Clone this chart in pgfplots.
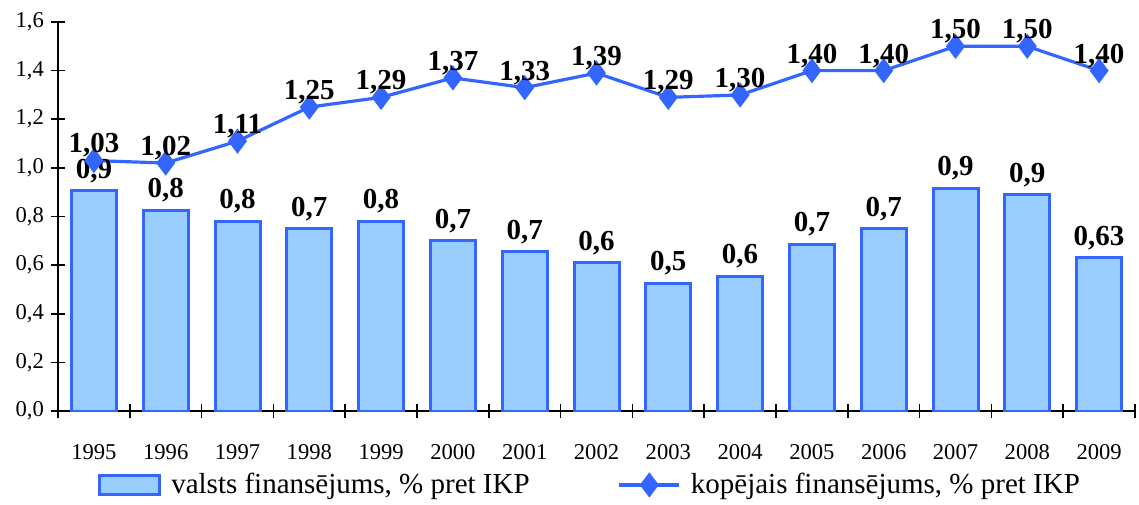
\documentclass[border=0pt]{standalone}
\usepackage{pgfplots}
\pgfplotsset{compat=1.18}
\usepackage{pgfplotstable}
\usepackage{fontspec}
\setmainfont{Liberation Serif}
\definecolor{barfill}{HTML}{99CCFF}
\definecolor{lineblue}{HTML}{3366FF}

\pgfplotsset{
  barlegend/.style={legend image code/.code={\draw[##1] (0pt,-4.75pt) rectangle (30pt,4.75pt);}},
  linelegend/.style={legend image code/.code={\draw[mark repeat=2, mark phase=2, ##1] plot coordinates {(0pt,0pt) (15pt,0pt) (30pt,0pt)};}},
}

% valsts finansejums
\pgfplotstableread{
x y lab
0 0.905 {0,9}
1 0.825 {0,8}
2 0.780 {0,8}
3 0.750 {0,7}
4 0.780 {0,8}
5 0.700 {0,7}
6 0.655 {0,7}
7 0.610 {0,6}
8 0.525 {0,5}
9 0.555 {0,6}
10 0.685 {0,7}
11 0.750 {0,7}
12 0.915 {0,9}
13 0.890 {0,9}
14 0.630 {0,63}
}\valsts

% kopejais finansejums
\pgfplotstableread{
x y lab
0 1.03 {1,03}
1 1.02 {1,02}
2 1.11 {1,11}
3 1.25 {1,25}
4 1.29 {1,29}
5 1.37 {1,37}
6 1.33 {1,33}
7 1.39 {1,39}
8 1.29 {1,29}
9 1.30 {1,30}
10 1.40 {1,40}
11 1.40 {1,40}
12 1.50 {1,50}
13 1.50 {1,50}
14 1.40 {1,40}
}\kopejais

\begin{document}
\begin{tikzpicture}
\begin{axis}[
  scale only axis, width=538.5pt, height=194.5pt,
  xmin=-0.5, xmax=14.5, ymin=0, ymax=1.6,
  ytick={0,0.2,...,1.6},
  xtick={0,...,14},
  xticklabels={1995,1996,1997,1998,1999,2000,2001,2002,2003,2004,2005,2006,2007,2008,2009},
  minor xtick={-0.5,0.5,...,14.5},
  axis x line*=bottom, axis y line*=left,
  axis line style={black, line width=0.8pt, -},
  tick align=center,
  major tick length=7pt, minor tick length=7pt,
  tick style={black, line width=0.8pt},
  major x tick style={draw=none},
  ticklabel style={font=\fontsize{11.3}{13}\selectfont},
  xticklabel style={yshift=-9.5pt},
  yticklabel style={/pgf/number format/.cd, use comma, fixed, fixed zerofill, precision=1},
  /pgf/number format/assume math mode=true,
  legend style={at={(0.495,-0.19)}, anchor=center, draw=none, fill=none,
    font=\fontsize{14.5}{16}\selectfont,
    /tikz/every even column/.append style={column sep=42pt},
    /tikz/every odd column/.append style={column sep=3pt}},
  legend columns=2,
]
\addplot[ybar, bar width=22.5pt, bar shift=0pt, fill=barfill, draw=lineblue, line width=1.5pt,
  nodes near coords, point meta=explicit symbolic,
  every node near coord/.append style={anchor=center, yshift=10pt, font=\fontsize{14.5}{14.5}\bfseries, text=black},
  barlegend]
  table[x=x, y=y, meta=lab] {\valsts};
\addlegendentry{valsts finansējums, \% pret IKP}
\addplot[color=lineblue, line width=1.6pt, mark=diamond*, mark size=5pt,
  mark options={solid, fill=lineblue},
  nodes near coords, point meta=explicit symbolic,
  every node near coord/.append style={anchor=center, yshift=7.5pt, font=\fontsize{14.5}{14.5}\bfseries, text=black},
  linelegend]
  table[x=x, y=y, meta=lab] {\kopejais};
\addlegendentry{kopējais finansējums, \% pret IKP}
\end{axis}
\path (current axis.south west) ++(-29pt,-43pt) (current axis.north east) ++(2pt,11pt);
\end{tikzpicture}
\end{document}
